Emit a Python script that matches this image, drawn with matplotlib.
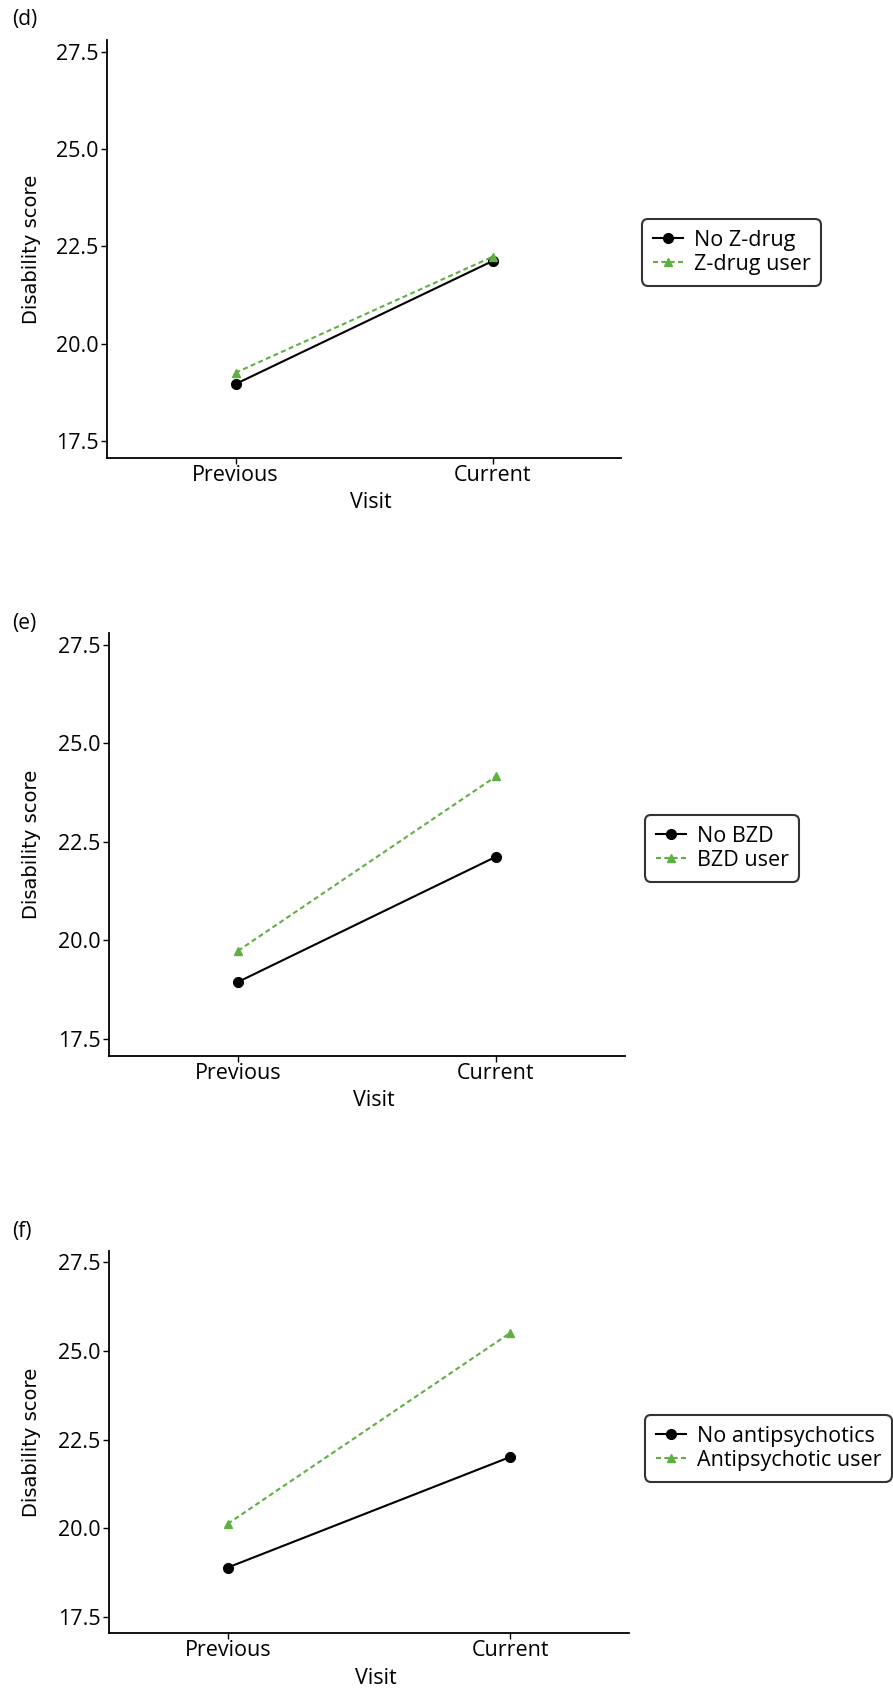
import matplotlib
matplotlib.use("Agg")
import matplotlib.pyplot as plt

# ---- data ----
visits = ["Previous", "Current"]
panel_labels = ["(d)", "(e)", "(f)"]
ref_names = ["No Z-drug", "No BZD", "No antipsychotics"]
user_names = ["Z-drug user", "BZD user", "Antipsychotic user"]
ref_values = [[18.96, 22.12], [18.94, 22.12], [18.90, 22.01]]
user_values = [[19.25, 22.23], [19.73, 24.16], [20.13, 25.50]]
yticks = [17.5, 20.0, 22.5, 25.0, 27.5]

W, H = 893, 1691
fig = plt.figure(figsize=(W / 100, H / 100), dpi=100)
fig.patch.set_facecolor("white")

GREEN = "#5fb043"
TFONT = "Open Sans"

# pixel layouts: left, right, top, bottom, xlim pad
layouts = [
    dict(l=107, r=621, t=40, b=458, xpad=0.5, lab_y=20, leg=(642, 219)),
    dict(l=109, r=625, t=633, b=1056, xpad=0.5, lab_y=624, leg=(645, 815)),
    dict(l=109, r=629, t=1251, b=1633, xpad=0.42, lab_y=1232, leg=(645, 1415)),
]

for i, L in enumerate(layouts):
    ax = fig.add_axes([L["l"] / W, 1 - L["b"] / H, (L["r"] - L["l"]) / W, (L["b"] - L["t"]) / H])
    x = [1, 2]
    ax.plot(x, ref_values[i], color="black", lw=1.5, marker="o", markersize=7,
            label=ref_names[i], zorder=3)
    ax.plot(x, user_values[i], color=GREEN, lw=1.5, ls=(0, (2.4, 1.6)), marker="^",
            markersize=5.5, label=user_names[i], zorder=4)
    ax.set_xlim(1 - L["xpad"], 2 + L["xpad"])
    ax.set_ylim(17.06, 27.8)
    ax.set_xticks(x)
    ax.set_xticklabels(visits, fontsize=15.5, family=TFONT)
    ax.set_yticks(yticks)
    ax.set_yticklabels([f"{v:.1f}" for v in yticks], fontsize=15.5, family=TFONT)
    for s in ["top", "right"]:
        ax.spines[s].set_visible(False)
    for s in ["left", "bottom"]:
        ax.spines[s].set_linewidth(1.3)
    ax.tick_params(axis="both", length=4, width=1.0, pad=2, colors="black")
    ax.tick_params(axis="x", pad=1)

    cy = (L["t"] + L["b"]) / 2
    fig.text(32 / W, 1 - cy / H, "Disability score", rotation=90, ha="center",
             va="center", fontsize=14, family="DejaVu Sans")
    fig.text(((L["l"] + L["r"]) / 2 + 7) / W, 1 - (L["b"] + 45) / H, "Visit",
             ha="center", va="center", fontsize=15.5, family=TFONT)
    fig.text(12 / W, 1 - L["lab_y"] / H, panel_labels[i], ha="left", va="center",
             fontsize=15, family=TFONT)

    lx, ly = L["leg"]
    leg = fig.legend(handles=ax.get_lines(), loc="upper left",
                     bbox_to_anchor=(lx / W, 1 - ly / H), frameon=True, fancybox=True,
                     prop=dict(family=TFONT, size=15.5), handlelength=1.4,
                     handletextpad=0.5, borderpad=0.5, labelspacing=0.15,
                     borderaxespad=0)
    fr = leg.get_frame()
    fr.set_edgecolor("black")
    fr.set_linewidth(1.5)
    fr.set_boxstyle("round,pad=0,rounding_size=0.3")

fig.savefig("out.png", dpi=100, facecolor="white")
